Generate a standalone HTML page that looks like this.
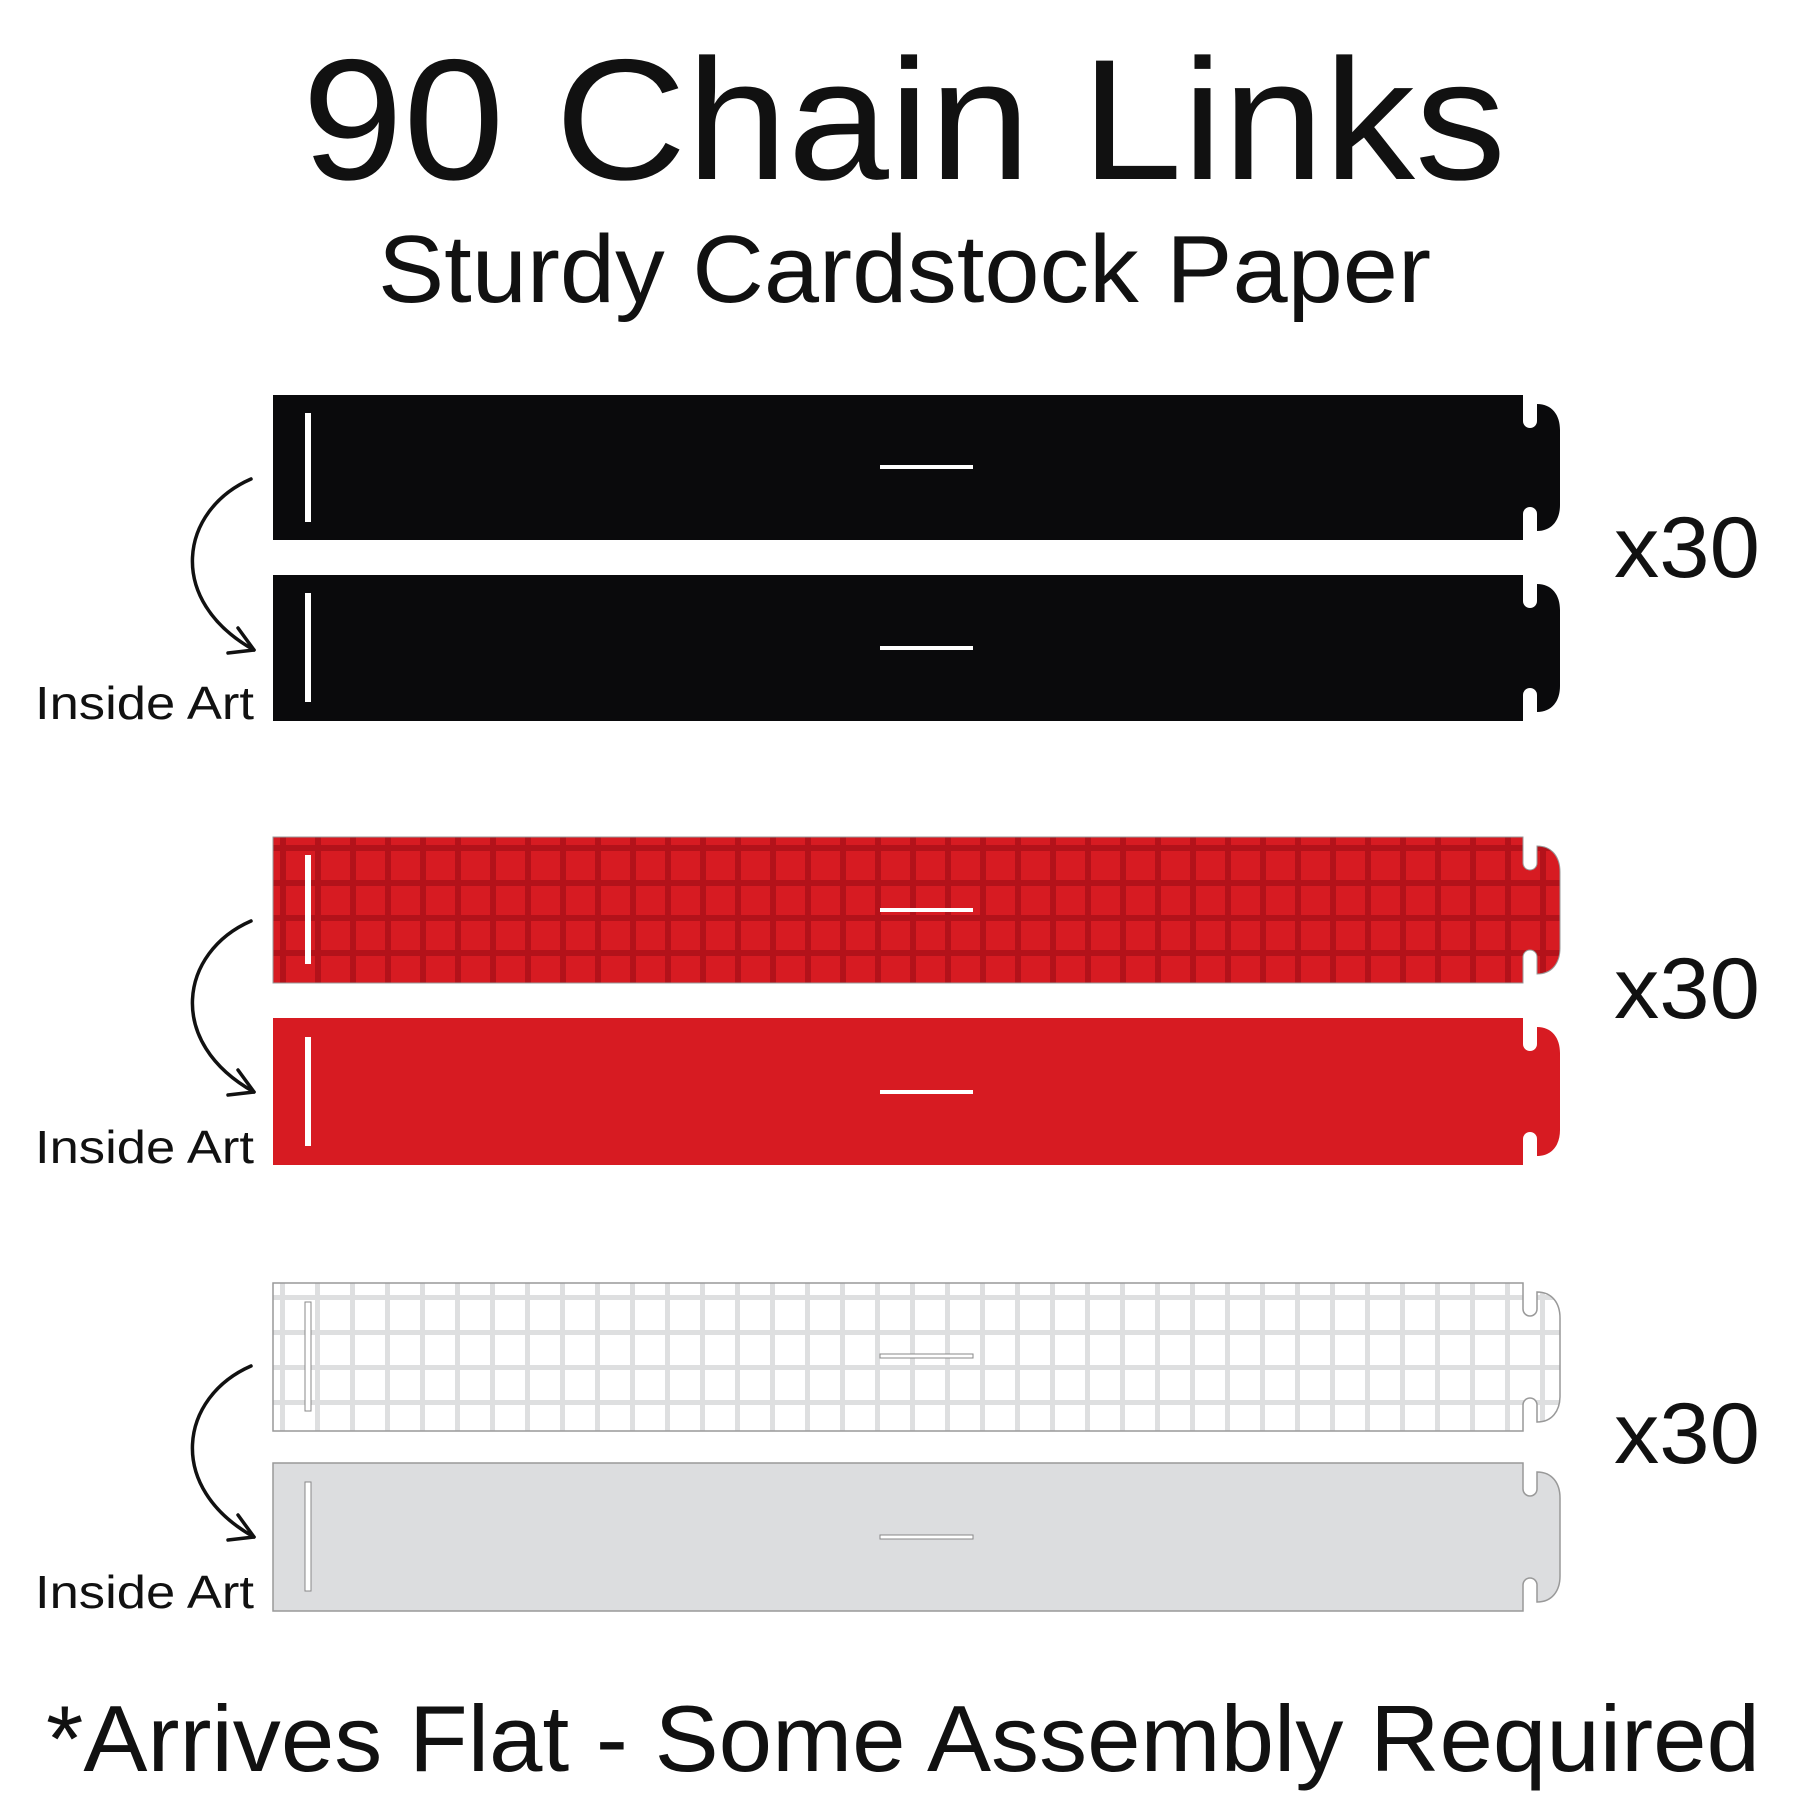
<!DOCTYPE html>
<html><head><meta charset="utf-8"><style>
html,body{margin:0;padding:0;background:#fff;}
svg{display:block;}
text{font-family:"Liberation Sans",sans-serif;fill:#111;}
</style></head><body>
<svg width="1800" height="1800" viewBox="0 0 1800 1800" xmlns="http://www.w3.org/2000/svg">
<defs>
<pattern id="redgrid" x="0" y="5" width="35" height="35" patternUnits="userSpaceOnUse">
<rect width="35" height="35" fill="#d71b22"/>
<rect x="0" y="0" width="35" height="6" fill="#b3121a"/>
<rect x="0" y="0" width="6" height="35" fill="#b3121a"/>
</pattern>
<pattern id="whitegrid" x="0" y="0" width="35" height="35" patternUnits="userSpaceOnUse">
<rect width="35" height="35" fill="#ffffff"/>
<rect x="0" y="0" width="35" height="5" fill="#dedfe0"/>
<rect x="0" y="0" width="5" height="35" fill="#dedfe0"/>
</pattern>
</defs>

<text x="302" y="179" font-size="172" textLength="1204" lengthAdjust="spacingAndGlyphs">90 Chain Links</text>
<text x="378" y="302" font-size="96" textLength="1053" lengthAdjust="spacingAndGlyphs">Sturdy Cardstock Paper</text>

<path d="M273,395 H1523 V421 A7,7 0 0 0 1537,421 V404 C1552,404 1560,415 1560,430 V505 C1560,520 1552,531 1537,531 V514 A7,7 0 0 0 1523,514 V540 H273 Z" fill="#0a0a0c"/>
<rect x="305" y="413" width="6" height="109" fill="#fff"/>
<rect x="880" y="465" width="93" height="4" fill="#fff"/>
<path d="M273,575 H1523 V601 A7,7 0 0 0 1537,601 V584 C1552,584 1560,595 1560,610 V686 C1560,701 1552,712 1537,712 V695 A7,7 0 0 0 1523,695 V721 H273 Z" fill="#0a0a0c"/>
<rect x="305" y="593" width="6" height="109" fill="#fff"/>
<rect x="880" y="646" width="93" height="4" fill="#fff"/>

<path d="M273,837 H1523 V863 A7,7 0 0 0 1537,863 V846 C1552,846 1560,857 1560,872 V948 C1560,963 1552,974 1537,974 V957 A7,7 0 0 0 1523,957 V983 H273 Z" fill="url(#redgrid)" stroke="#999" stroke-width="1"/>
<rect x="305" y="855" width="6" height="109" fill="#fff"/>
<rect x="880" y="908" width="93" height="4" fill="#fff"/>
<path d="M273,1018 H1523 V1044 A7,7 0 0 0 1537,1044 V1027 C1552,1027 1560,1038 1560,1053 V1130 C1560,1145 1552,1156 1537,1156 V1139 A7,7 0 0 0 1523,1139 V1165 H273 Z" fill="#d71b22"/>
<rect x="305" y="1037" width="6" height="109" fill="#fff"/>
<rect x="880" y="1090" width="93" height="4" fill="#fff"/>

<path d="M273,1283 H1523 V1309 A7,7 0 0 0 1537,1309 V1292 C1552,1292 1560,1303 1560,1318 V1396 C1560,1411 1552,1422 1537,1422 V1405 A7,7 0 0 0 1523,1405 V1431 H273 Z" fill="url(#whitegrid)" stroke="#999" stroke-width="1.5"/>
<rect x="305" y="1302" width="6" height="109" fill="#fff" stroke="#888" stroke-width="1"/>
<rect x="880" y="1354" width="93" height="4" fill="#fff" stroke="#888" stroke-width="1"/>
<path d="M273,1463 H1523 V1489 A7,7 0 0 0 1537,1489 V1472 C1552,1472 1560,1483 1560,1498 V1576 C1560,1591 1552,1602 1537,1602 V1585 A7,7 0 0 0 1523,1585 V1611 H273 Z" fill="#dcdddf" stroke="#999" stroke-width="1.5"/>
<rect x="305" y="1482" width="6" height="109" fill="#fff" stroke="#888" stroke-width="1"/>
<rect x="880" y="1535" width="93" height="4" fill="#fff" stroke="#888" stroke-width="1"/>

<g fill="none" stroke="#111" stroke-width="3.5" stroke-linecap="round" stroke-linejoin="round">
<path d="M251,479 C180,510 165,600 254,650"/>
<path d="M238,628 L254,650 L228,653"/>
<path d="M251,921 C180,952 165,1042 254,1092"/>
<path d="M238,1070 L254,1092 L228,1095"/>
<path d="M251,1366 C180,1397 165,1487 254,1537"/>
<path d="M238,1515 L254,1537 L228,1540"/>
</g>

<text x="35" y="719" font-size="46" textLength="219" lengthAdjust="spacingAndGlyphs">Inside Art</text>
<text x="35" y="1163" font-size="46" textLength="219" lengthAdjust="spacingAndGlyphs">Inside Art</text>
<text x="35" y="1608" font-size="46" textLength="219" lengthAdjust="spacingAndGlyphs">Inside Art</text>

<text x="1614" y="577" font-size="86" textLength="146" lengthAdjust="spacingAndGlyphs">x30</text>
<text x="1614" y="1018" font-size="86" textLength="146" lengthAdjust="spacingAndGlyphs">x30</text>
<text x="1614" y="1463" font-size="86" textLength="146" lengthAdjust="spacingAndGlyphs">x30</text>

<text x="46" y="1771" font-size="94" textLength="1714" lengthAdjust="spacingAndGlyphs">*Arrives Flat - Some Assembly Required</text>
</svg>
</body></html>
